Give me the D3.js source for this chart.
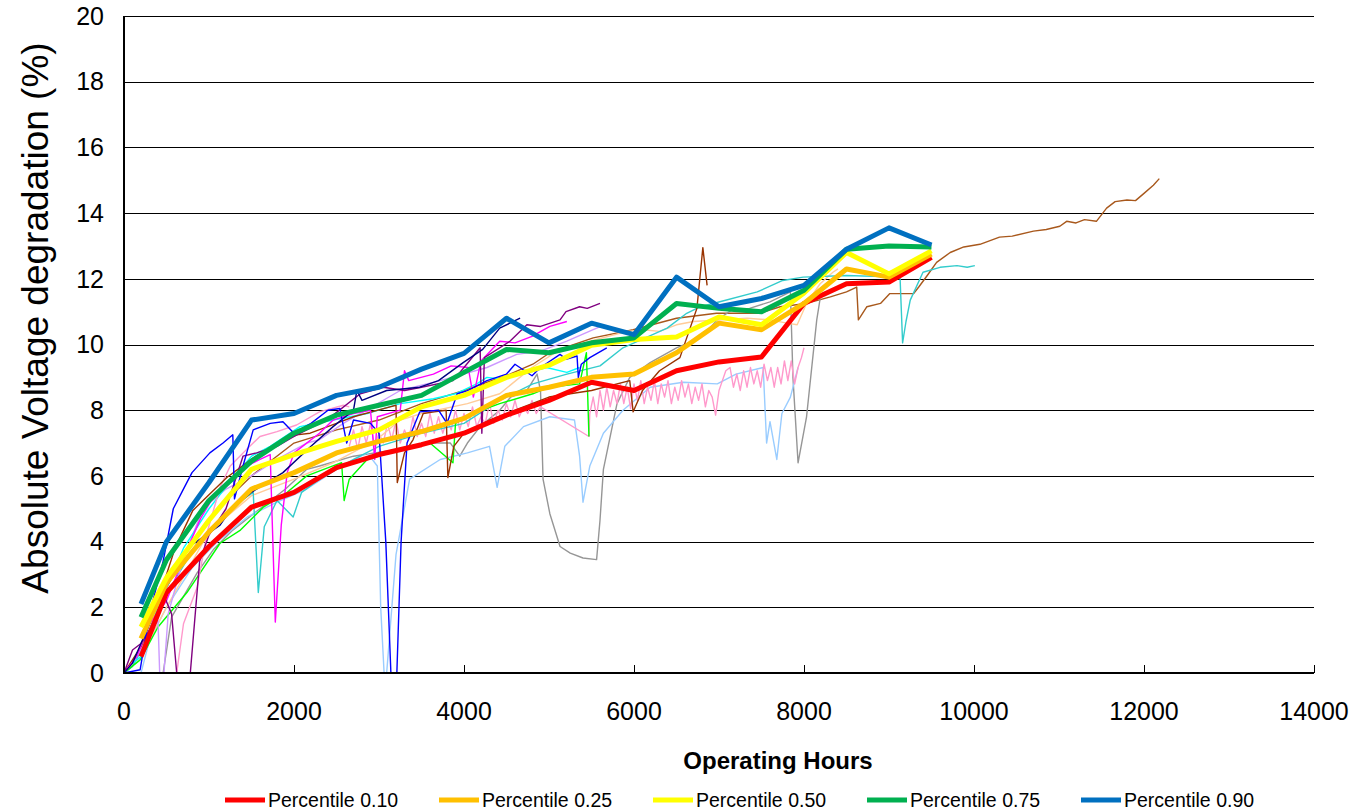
<!doctype html>
<html lang="en">
<head>
  <meta charset="utf-8">
  <title>Absolute voltage degradation</title>
  <script type="text/javascript" src="https://cdnjs.cloudflare.com/ajax/libs/d3/7.8.5/d3.min.js"></script>
  <style>
    body { margin: 0; background: #fff; }
    text { font-family: Arial, "Liberation Sans", sans-serif; }
  </style>
</head>
<body>
<svg width="1353" height="812" id="svg"></svg>

<script type="text/javascript">

// percentile curves, sampled every 500 h
var pctHours = [200, 500, 1000, 1500, 2000, 2500, 3000, 3500, 4000, 4500, 5000, 5500, 6000, 6500, 7000, 7500, 8000, 8500, 9000, 9500];
var p10 = [0.5, 2.45, 3.85, 5.05, 5.5, 6.25, 6.65, 6.95, 7.3, 7.85, 8.3, 8.85, 8.6, 9.2, 9.47, 9.62, 11.25, 11.85, 11.9, 12.65];
var p25 = [1.05, 2.75, 4.3, 5.6, 6.1, 6.7, 7.05, 7.35, 7.75, 8.45, 8.7, 9.0, 9.1, 9.75, 10.65, 10.45, 11.25, 12.3, 12.05, 12.75];
var p50 = [1.4, 2.9, 4.65, 6.2, 6.65, 7.05, 7.4, 8.1, 8.45, 9.0, 9.37, 9.98, 10.15, 10.23, 10.84, 10.6, 11.57, 12.8, 12.15, 12.85];
var p75 = [1.7, 3.45, 5.25, 6.45, 7.3, 7.85, 8.15, 8.45, 9.15, 9.85, 9.75, 10.05, 10.2, 11.25, 11.1, 11.0, 11.65, 12.9, 13.0, 12.97];
var p90 = [2.1, 4.0, 5.8, 7.7, 7.9, 8.45, 8.7, 9.25, 9.73, 10.8, 10.05, 10.65, 10.3, 12.05, 11.15, 11.4, 11.8, 12.9, 13.55, 13.03];

var pctNames = ["Percentile 0.10", "Percentile 0.25", "Percentile 0.50", "Percentile 0.75", "Percentile 0.90"];
var pctColors = ["#ff0000", "#ffc000", "#ffff00", "#00b050", "#0070c0"];

// individual stacks: [hours, % degradation]
var stackBlue = [[0,0],[190,0.1],[300,1.8],[460,3.4],[580,5.0],[690,5.55],[800,6.1],[1010,6.7],[1165,7.0],[1280,7.25],[1300,5.3],[1400,6.3],[1520,7.4],[1720,7.6],[1870,7.65],[2000,7.3],[2200,7.6],[2400,8.0],[2540,8.05],[2620,7.0],[2700,7.7],[2900,7.6],[3000,7.3],[3080,4.0],[3140,0],[3210,0],[3260,4.0],[3330,7.0],[3480,7.95],[3700,8.0],[3800,7.6],[3920,8.5],[4050,8.6],[4270,8.9],[4500,9.1],[4600,9.4],[4800,9.05],[4900,9.3],[5130,9.7],[5200,9.55],[5330,9.65],[5345,9.0],[5380,9.4],[5480,9.6],[5680,9.9]];
var stackNavy = [[0,0],[100,0.3],[300,1.5],[500,2.8],[800,3.9],[1130,4.5],[1250,4.95],[1500,5.5],[1870,6.1],[2200,6.9],[2460,7.5],[2700,8.0],[2740,8.6],[2800,8.3],[3090,8.6],[3480,8.7],[3700,8.9],[3990,9.45],[4220,9.85],[4420,10.5],[4660,10.8]];
var stackPurple = [[0,0],[100,0.7],[200,0.9],[350,1.5],[480,2.3],[560,1.8],[620,0],[780,0],[890,3.4],[1000,4.2],[1200,5.0],[1400,6.6],[1560,6.7],[1800,6.9],[2000,7.2],[2300,7.6],[2460,7.85],[2780,8.5],[3050,8.7],[3300,8.6],[3500,8.7],[3870,8.9],[4000,9.3],[4190,9.9],[4210,7.3],[4240,9.6],[4540,10.1],[4740,10.6],[4900,10.55],[5130,10.75],[5200,11.0],[5360,11.15],[5450,11.1],[5600,11.25]];
var stackMagenta = [[0,0],[150,0.5],[300,1.5],[500,2.2],[700,3.5],[900,4.7],[1050,5.35],[1250,5.9],[1440,6.3],[1600,6.5],[1720,6.65],[1780,1.55],[1850,4.5],[1920,6.1],[2000,6.7],[2300,7.3],[2460,7.7],[2700,7.9],[2900,8.0],[2950,6.5],[2980,7.8],[3250,8.0],[3300,9.2],[3350,8.9],[3640,9.1],[3850,9.35],[4050,9.3],[4110,8.4],[4200,9.5],[4420,10.1],[4600,10.05],[4800,10.25],[5010,10.55],[5210,10.7]];
var stackRose = [[560,0],[620,0],[700,1.5],[860,2.6],[980,4.3],[1130,5.65],[1250,6.3],[1440,6.8],[1600,7.2],[1800,7.35],[2030,7.55],[2300,7.95],[2580,8.15],[2650,8.1]];
var stackRoseNoisy = [[2650,6.9],[2700,7.4],[2750,6.8],[2800,7.5],[2850,7.0],[2900,7.6],[2950,6.9],[3000,7.3],[3050,7.0],[3100,7.6],[3150,7.1],[3200,7.7],[3250,7.0],[3300,7.4],[3350,7.1],[3400,7.8],[3450,7.2],[3500,7.6],[3550,7.2],[3600,7.9],[3650,7.3],[3700,7.8],[3750,7.3],[3800,7.7],[3850,7.4],[3900,8.0],[3950,7.4],[4000,7.9],[4050,7.5],[4100,8.1],[4150,7.5],[4200,7.8],[4250,7.6],[4300,8.2],[4350,7.6],[4400,8.0],[4450,7.7],[4500,8.2],[4550,7.8],[4600,8.3],[4650,7.8],[4700,8.1],[4750,7.9],[4800,8.3],[4850,7.9],[4900,8.1],[5470,7.2],[5480,7.9],[5520,8.4],[5560,7.8],[5600,8.6],[5640,8.0],[5680,8.7],[5720,8.1],[5760,8.6],[5800,8.2],[5840,8.8],[5880,8.2],[5920,8.7],[5960,8.05],[6000,8.8],[6040,8.3],[6080,8.9],[6120,8.2],[6160,8.7],[6200,8.3],[6240,8.9],[6280,8.2],[6320,8.8],[6360,8.4],[6400,8.9],[6440,8.2],[6480,8.7],[6520,8.3],[6560,8.9],[6600,8.4],[6640,8.8],[6680,8.2],[6720,8.7],[6760,8.3],[6800,8.8],[6840,8.1],[6880,8.6],[6920,8.4],[6960,7.85],[7000,8.6],[7040,8.9],[7080,9.2],[7130,9.3],[7170,8.7],[7210,9.1],[7250,8.6],[7290,9.2],[7330,8.7],[7370,9.3],[7410,8.8],[7450,9.2],[7490,8.7],[7530,9.4],[7570,8.9],[7610,9.3],[7650,8.7],[7690,9.3],[7730,8.8],[7770,9.5],[7810,8.9],[7850,9.5],[7890,8.8],[7930,9.3],[7970,9.6],[8000,9.9]];
var stackLavender = [[0,0],[150,0.5],[300,1.2],[400,1.6],[420,0],[470,0],[520,1.8],[700,3.5],[930,5.0],[1200,5.6],[1500,6.0],[1800,6.5],[2150,7.0],[2300,7.1],[2580,7.6],[3250,8.6],[3720,8.9],[4270,9.3],[4620,9.7],[4900,9.8],[5210,10.1],[5520,10.45],[5650,10.6]];
var stackCyan = [[0,0],[100,0.3],[200,0.5],[400,2.0],[700,3.8],[1000,5.0],[1300,6.0],[1500,6.6],[1720,6.9],[2070,7.5],[2460,7.7],[2860,7.9],[3250,8.2],[3640,8.35],[3900,8.5],[4150,8.8],[4270,9.0],[4420,8.95],[4700,9.1],[4970,9.3],[5210,9.15],[5360,9.3]];
var stackTeal = [[0,0],[100,0.2],[250,0.9],[500,2.4],[800,3.7],[1100,4.6],[1350,5.2],[1520,5.5],[1580,2.45],[1650,4.45],[1800,5.25],[1990,4.75],[2090,5.5],[2300,5.9],[2700,6.5],[3000,6.9],[3500,7.3],[4000,7.6],[4420,8.3],[4810,8.8],[5210,9.1],[5600,9.35],[5870,9.9],[6390,10.5],[6620,10.95],[6780,11.15],[7010,11.3],[7450,11.6],[7750,11.95],[7990,12.05],[8500,12.1],[9130,12.05],[9160,10.05],[9200,10.7],[9250,11.35],[9400,12.2],[9600,12.35],[9800,12.4],[9920,12.35],[10010,12.4]];
var stackDarkBrown = [[0,0],[200,0.8],[400,2.2],[600,3.8],[810,4.95],[930,5.25],[1210,5.95],[1520,6.55],[1750,6.9],[2030,7.25],[2190,7.3],[2500,7.6],[2700,7.8],[3130,8.1],[3200,8.15],[3215,5.8],[3300,6.7],[3400,7.1],[3520,7.9],[3650,7.95],[3790,8.0],[3810,5.95],[3880,6.9],[4000,7.3],[4300,7.7],[4600,8.0],[5000,8.4],[5500,8.6],[5950,8.9],[5990,7.95],[6100,8.6],[6300,9.2],[6540,9.6],[6740,11.1],[6810,12.95],[6860,11.8]];
var stackLongBrown = [[0,0],[200,0.7],[500,2.6],[800,4.0],[1100,5.0],[1500,6.0],[2000,7.0],[2500,7.4],[3000,7.7],[3500,8.2],[4000,8.6],[4540,9.1],[4810,9.4],[5010,9.75],[5520,10.2],[5990,10.45],[6500,10.8],[6970,10.95],[7480,10.95],[7720,11.15],[8030,11.25],[8310,11.45],[8500,11.6],[8620,11.75],[8640,10.75],[8740,11.15],[8900,11.25],[9010,11.55],[9290,11.55],[9350,11.75],[9450,12.1],[9560,12.5],[9720,12.8],[9880,12.97],[10070,13.05],[10300,13.27],[10450,13.3],[10700,13.45],[10850,13.5],[11010,13.6],[11090,13.75],[11200,13.7],[11300,13.8],[11440,13.75],[11560,14.15],[11660,14.35],[11800,14.4],[11900,14.38],[12000,14.6],[12110,14.85],[12180,15.05]];
var stackPeach = [[0,0],[200,0.5],[500,2.0],[1000,4.3],[1500,5.4],[2000,5.9],[2460,6.4],[2970,7.1],[3250,7.7],[3500,7.9],[4040,8.2],[4420,8.5],[4800,9.3],[5100,9.8],[5480,10.1],[5920,10.4],[6110,10.45],[6300,10.4],[6500,10.6],[6700,10.7],[7330,10.8],[7600,10.75],[7800,10.65],[7920,10.6],[8030,11.25],[8190,11.85],[8340,12.2],[8400,12.3]];
var stackLightBlue = [[0,0],[200,0],[300,1.0],[500,2.0],[800,3.2],[1100,4.0],[1450,4.75],[1800,5.2],[2150,5.6],[2500,6.2],[2860,6.7],[2980,6.3],[3020,2.0],[3060,0],[3090,0],[3200,3.6],[3360,5.9],[3720,6.5],[4040,6.7],[4300,6.9],[4390,5.65],[4480,6.9],[4700,7.5],[5010,7.8],[5300,7.7],[5360,6.6],[5400,5.2],[5480,6.3],[5640,7.3],[5870,8.0],[6190,8.7],[6580,8.85],[6980,8.8],[7200,9.1],[7520,9.3],[7560,7.0],[7600,7.65],[7680,6.5],[7740,7.9],[7840,8.4],[7930,9.3]];
var stackGray = [[0,0],[350,0],[460,0],[560,1.7],[860,3.05],[1050,3.75],[1280,4.35],[1600,5.0],[1900,5.6],[2150,6.2],[2300,6.3],[2700,6.6],[3200,6.8],[3600,7.0],[3840,7.0],[3950,6.6],[4040,7.0],[4190,7.5],[4420,8.0],[4550,8.4],[4740,8.6],[4860,9.1],[4900,8.6],[4930,5.9],[5010,4.85],[5130,3.85],[5250,3.65],[5400,3.5],[5560,3.45],[5600,4.65],[5640,6.2],[5800,8.2],[5950,9.0],[6190,9.45],[6500,9.9],[6780,10.2],[6980,10.75],[7150,11.05],[7360,11.1],[7600,11.3],[7840,11.6],[7870,9.0],[7930,6.4],[8030,7.8],[8150,10.75],[8190,11.4]];
var stackLime = [[0,0],[190,0.4],[400,1.4],[740,2.45],[1130,3.95],[1370,4.35],[1640,5.05],[1920,5.5],[2150,6.0],[2450,6.3],[2560,6.4],[2590,5.25],[2650,5.9],[2860,6.5],[3250,6.8],[3600,7.0],[3870,6.4],[3900,7.6],[4100,7.9],[4420,8.2],[4810,8.5],[5000,8.7],[5360,8.8],[5440,9.75],[5470,7.2]];

var stacks = [
  {data: stackLongBrown, color: "#a8581c"},
  {data: stackGray, color: "#969696"},
  {data: stackLightBlue, color: "#99ccff"},
  {data: stackRoseNoisy, color: "#ff99cc"},
  {data: stackPeach, color: "#ffcc99"},
  {data: stackTeal, color: "#33cccc"},
  {data: stackLime, color: "#00ff00"},
  {data: stackLavender, color: "#cc99ff"},
  {data: stackCyan, color: "#00ffff"},
  {data: stackRose, color: "#ff99cc"},
  {data: stackDarkBrown, color: "#993300"},
  {data: stackMagenta, color: "#ff00ff"},
  {data: stackPurple, color: "#800080"},
  {data: stackNavy, color: "#000080"},
  {data: stackBlue, color: "#0000ff"}
];

var xTicks = [0, 2000, 4000, 6000, 8000, 10000, 12000, 14000];
var yTicks = [0, 2, 4, 6, 8, 10, 12, 14, 16, 18, 20];

// plot box (avoid "top", it is window.top)
var plotL = 124, plotR = 1314, plotT = 16, plotB = 673;

var x = d3.scaleLinear().domain([0, 14000]).range([plotL, plotR]);
var y = d3.scaleLinear().domain([0, 20]).range([plotB, plotT]);

var svg = d3.select('#svg');

// gridlines
svg.append('g')
  .selectAll('line')
  .data(yTicks.slice(1))
  .enter().append('line')
  .attr('x1', plotL).attr('x2', plotR)
  .attr('y1', function(d) { return Math.round(y(d)) + 0.5; })
  .attr('y2', function(d) { return Math.round(y(d)) + 0.5; })
  .attr('stroke', '#000')
  .attr('stroke-width', 1);

// y tick labels
svg.append('g')
  .selectAll('text')
  .data(yTicks)
  .enter().append('text')
  .attr('x', 104)
  .attr('y', function(d) { return y(d); })
  .attr('dy', '0.35em')
  .attr('text-anchor', 'end')
  .attr('font-size', 25)
  .text(function(d) { return d; });

var line = d3.line()
  .x(function(d) { return x(d[0]); })
  .y(function(d) { return y(d[1]); });

svg.append('clipPath').attr('id', 'plot')
  .append('rect').attr('x', plotL).attr('y', plotT - 4).attr('width', plotR - plotL).attr('height', plotB - plotT + 4);

var plot = svg.append('g').attr('clip-path', 'url(#plot)');

plot.selectAll('path.stack')
  .data(stacks)
  .enter().append('path')
  .attr('class', 'stack')
  .attr('d', function(d) { return line(d.data); })
  .attr('fill', 'none')
  .attr('stroke', function(d) { return d.color; })
  .attr('stroke-width', 1.4)
  .attr('stroke-linejoin', 'round');

var percentiles = [p10, p25, p50, p75, p90].map(function(vals, i) {
  return {
    name: pctNames[i],
    color: pctColors[i],
    data: pctHours.map(function(h, j) { return [h, vals[j]]; })
  };
});

plot.selectAll('path.pct')
  .data(percentiles)
  .enter().append('path')
  .attr('class', 'pct')
  .attr('d', function(d) { return line(d.data); })
  .attr('fill', 'none')
  .attr('stroke', function(d) { return d.color; })
  .attr('stroke-width', 5)
  .attr('stroke-linejoin', 'round');

// axes
svg.append('line')
  .attr('x1', plotL).attr('x2', plotL)
  .attr('y1', plotT).attr('y2', plotB + 1)
  .attr('stroke', '#000').attr('stroke-width', 2);

svg.append('line')
  .attr('x1', plotL - 1).attr('x2', plotR)
  .attr('y1', plotB).attr('y2', plotB)
  .attr('stroke', '#000').attr('stroke-width', 2);

svg.append('g')
  .selectAll('line')
  .data(xTicks.slice(1))
  .enter().append('line')
  .attr('x1', function(d) { return Math.round(x(d)) + 0.5; })
  .attr('x2', function(d) { return Math.round(x(d)) + 0.5; })
  .attr('y1', plotB - 8).attr('y2', plotB)
  .attr('stroke', '#000').attr('stroke-width', 1);

svg.append('g')
  .selectAll('text')
  .data(xTicks)
  .enter().append('text')
  .attr('x', function(d) { return x(d); })
  .attr('y', 711)
  .attr('dy', '0.35em')
  .attr('text-anchor', 'middle')
  .attr('font-size', 25)
  .text(function(d) { return d; });

// axis titles
svg.append('text')
  .attr('x', 778).attr('y', 761)
  .attr('dy', '0.35em')
  .attr('text-anchor', 'middle')
  .attr('font-size', 24)
  .attr('font-weight', 'bold')
  .text('Operating Hours');

svg.append('text')
  .attr('transform', 'translate(35,318) rotate(-90)')
  .attr('dy', '0.35em')
  .attr('text-anchor', 'middle')
  .attr('font-size', 37)
  .text('Absolute Voltage degradation (%)');

// legend
var legend = svg.append('g')
  .selectAll('g')
  .data(percentiles)
  .enter().append('g')
  .attr('transform', function(d, i) { return 'translate(' + (225 + i * 214) + ',800)'; });

legend.append('line')
  .attr('x1', 0).attr('x2', 40)
  .attr('stroke', function(d) { return d.color; })
  .attr('stroke-width', 5);

legend.append('text')
  .attr('x', 43)
  .attr('dy', '0.35em')
  .attr('font-size', 19.5)
  .text(function(d) { return d.name; });

</script>
</body>
</html>
